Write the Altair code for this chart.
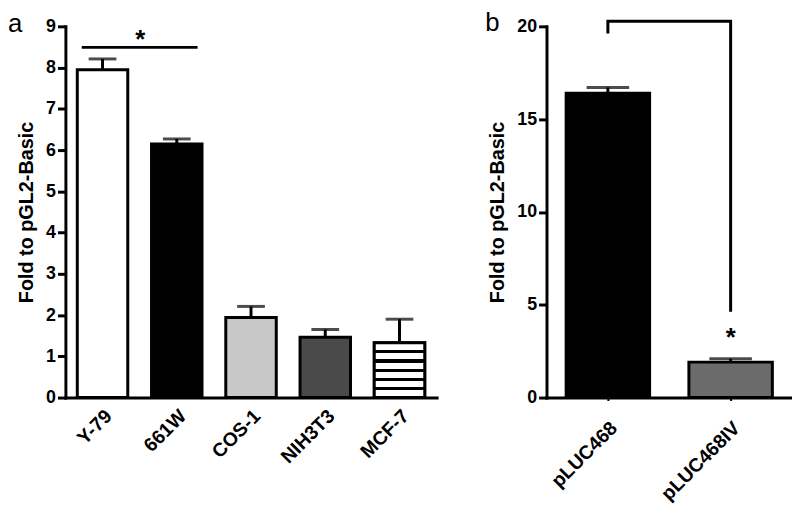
import altair as alt
import pandas as pd

FONT = "Liberation Sans"

# ---------------- data ----------------
cats_a = ["Y-79", "661W", "COS-1", "NIH3T3", "MCF-7"]
vals_a = [7.95, 6.15, 1.94, 1.46, 1.33]
errs_a = [8.21, 6.27, 2.21, 1.65, 1.90]
fills_a = ["#ffffff", "#000000", "#c8c8c8", "#4a4a4a", "#ffffff"]
striped_a = ["MCF-7"]

cats_b = ["pLUC468", "pLUC468IV"]
vals_b = [16.40, 1.91]
errs_b = [16.71, 2.09]
fills_b = ["#000000", "#6b6b6b"]

# significance annotations
sig_a_pair = ["Y-79", "661W"]
sig_a_y = 8.49
star_a_y = 8.80
bracket_cats = ["pLUC468", "pLUC468", "pLUC468IV", "pLUC468IV"]
bracket_vals = [19.61, 20.28, 20.28, 4.62]
star_b_cat = "pLUC468IV"
star_b_y = 3.55

df_a = pd.DataFrame({"cat": cats_a, "val": vals_a, "err": errs_a})
df_a_str = df_a[df_a["cat"].isin(striped_a)]
df_b = pd.DataFrame({"cat": cats_b, "val": vals_b, "err": errs_b})
df_bracket = pd.DataFrame({"cat": bracket_cats, "val": bracket_vals,
                           "order": list(range(len(bracket_cats)))})

# ---------------- styles ----------------
def y_axis(values):
    return alt.Axis(values=values, title="Fold to pGL2-Basic", format="d",
                    titleFontSize=20, titleFontWeight="bold", titleFont=FONT,
                    titleColor="black", titlePadding=9,
                    labelFontSize=18, labelFontWeight="bold", labelFont=FONT,
                    labelColor="black", labelPadding=2,
                    domainWidth=3, domainColor="black", domainCap="square",
                    tickWidth=3, tickColor="black", tickSize=8, grid=False)

def x_axis(ticks, pad):
    return alt.Axis(title=None, labelAngle=-45, labelFontSize=19.5,
                    labelFontWeight="bold", labelFont=FONT, labelColor="black",
                    labelPadding=pad, domainWidth=3, domainColor="black",
                    domainCap="square", ticks=ticks, tickSize=3, tickWidth=2,
                    tickColor="black")

def band(domain):
    return alt.Scale(domain=domain, paddingInner=0.32, paddingOuter=0.16)

# stripes gradient (horizontal black lines)
n_seg = 6
h = 0.028
stops = [alt.GradientStop(offset=0, color="white")]
for k in range(1, n_seg):
    c = k / n_seg
    stops += [alt.GradientStop(offset=c - h, color="white"),
              alt.GradientStop(offset=c - h, color="black"),
              alt.GradientStop(offset=c + h, color="black"),
              alt.GradientStop(offset=c + h, color="white")]
stops.append(alt.GradientStop(offset=1, color="white"))
stripe_fill = alt.LinearGradient(gradient="linear", stops=stops,
                                 x1=0, x2=0, y1=0, y2=1)

# ---------------- panel a ----------------
xa = alt.X("cat:N", scale=band(cats_a), axis=x_axis(False, 9))
ya_scale = alt.Scale(domain=[0, 9], nice=False)

bars_a = alt.Chart(df_a).mark_bar(stroke="black", strokeWidth=3).encode(
    x=xa,
    y=alt.Y("val:Q", scale=ya_scale, axis=y_axis(list(range(10)))),
    fill=alt.Fill("cat:N", scale=alt.Scale(domain=cats_a, range=fills_a), legend=None),
)
stripes_a = alt.Chart(df_a_str).mark_bar(stroke="black", strokeWidth=3,
                                         fill=stripe_fill).encode(
    x=xa, y=alt.Y("val:Q", scale=ya_scale))
err_a = alt.Chart(df_a).mark_rule(strokeWidth=3, color="black").encode(
    x=xa, y=alt.Y("val:Q", scale=ya_scale), y2="err:Q")
cap_a = alt.Chart(df_a).mark_tick(thickness=3, size=28, color="black").encode(
    x=xa, y=alt.Y("err:Q", scale=ya_scale))
sig_a = alt.Chart(pd.DataFrame({"cat": [sig_a_pair[0]], "c2": [sig_a_pair[1]],
                                "y": [sig_a_y]})).mark_rule(
    strokeWidth=3, color="black", xOffset=-21, x2Offset=21).encode(
    x=alt.X("cat:N", scale=band(cats_a)), x2="c2:N",
    y=alt.Y("y:Q", scale=ya_scale))
star_a = alt.Chart(pd.DataFrame({"cat": [sig_a_pair[0]], "y": [star_a_y],
                                 "t": ["*"]})).mark_text(
    fontSize=26, fontWeight="bold", font=FONT, color="black", xOffset=38,
    baseline="middle", dy=6).encode(
    x=alt.X("cat:N", scale=band(cats_a)), y=alt.Y("y:Q", scale=ya_scale),
    text="t:N")
lab_a = alt.Chart(pd.DataFrame({"t": ["a"]})).mark_text(
    fontSize=26, font=FONT, color="black", align="left",
    baseline="alphabetic").encode(
    x=alt.value(-58), y=alt.value(6), text="t:N")

panel_a = alt.layer(bars_a, stripes_a, err_a, cap_a, sig_a, star_a, lab_a
                    ).properties(width=375, height=375)

# ---------------- panel b ----------------
xb = alt.X("cat:N", scale=band(cats_b), axis=x_axis(True, 18))
yb_scale = alt.Scale(domain=[0, 20], nice=False)

bars_b = alt.Chart(df_b).mark_bar(stroke="black", strokeWidth=3).encode(
    x=xb,
    y=alt.Y("val:Q", scale=yb_scale, axis=y_axis([0, 5, 10, 15, 20])),
    fill=alt.Fill("cat:N", scale=alt.Scale(domain=cats_b, range=fills_b), legend=None),
)
err_b = alt.Chart(df_b).mark_rule(strokeWidth=3, color="black").encode(
    x=xb, y=alt.Y("val:Q", scale=yb_scale), y2="err:Q")
cap_b = alt.Chart(df_b).mark_tick(thickness=3, size=43, color="black").encode(
    x=xb, y=alt.Y("err:Q", scale=yb_scale))
bracket = alt.Chart(df_bracket).mark_line(strokeWidth=3, color="black",
                                          strokeJoin="miter").encode(
    x=alt.X("cat:N", scale=band(cats_b)),
    y=alt.Y("val:Q", scale=yb_scale), order="order:Q")
star_b = alt.Chart(pd.DataFrame({"cat": [star_b_cat], "y": [star_b_y],
                                 "t": ["*"]})).mark_text(
    fontSize=26, fontWeight="bold", font=FONT, color="black",
    baseline="middle", dy=6).encode(
    x=alt.X("cat:N", scale=band(cats_b)), y=alt.Y("y:Q", scale=yb_scale),
    text="t:N")
lab_b = alt.Chart(pd.DataFrame({"t": ["b"]})).mark_text(
    fontSize=26, font=FONT, color="black", align="left",
    baseline="alphabetic").encode(
    x=alt.value(-62), y=alt.value(5), text="t:N")

panel_b = alt.layer(bars_b, err_b, cap_b, bracket, star_b, lab_b
                    ).properties(width=248, height=375)

chart = alt.hconcat(panel_a, panel_b, spacing=49).properties(
    padding={"left": 0, "top": 0, "right": 0, "bottom": 0}
).configure_view(stroke=None).resolve_scale(y="independent", x="independent", fill="independent")

chart.save("out.html", embed_options={"renderer": "svg", "actions": False})
